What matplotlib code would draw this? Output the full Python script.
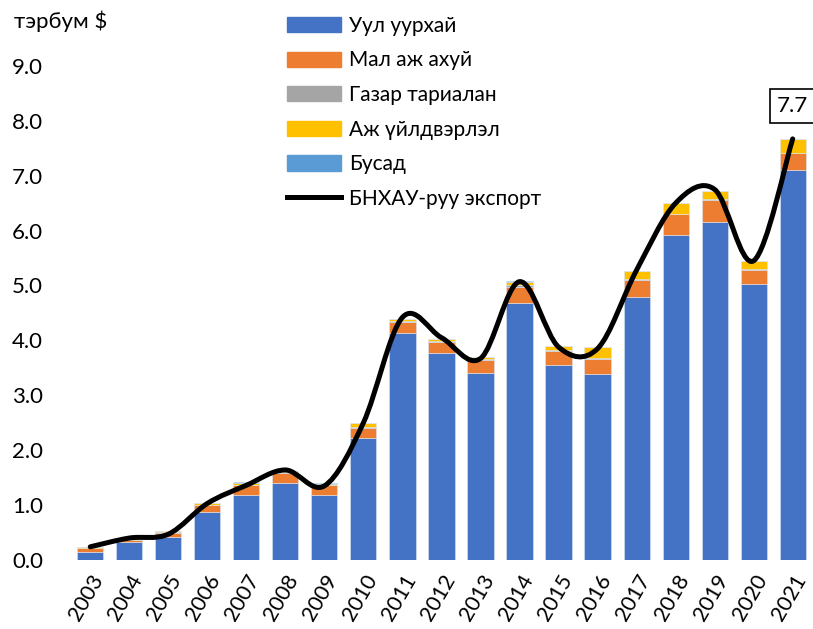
import matplotlib
matplotlib.use("Agg")
import matplotlib.pyplot as plt
import numpy as np
from matplotlib.path import Path
from matplotlib.patches import PathPatch
from matplotlib.lines import Line2D

plt.rcParams['font.family'] = ['Lato', 'DejaVu Sans']

years = [str(y) for y in range(2003, 2022)]

# тэрбум $
mining = [0.15, 0.32, 0.41, 0.87, 1.19, 1.41, 1.19, 2.23, 4.13, 3.77,
          3.41, 4.69, 3.55, 3.39, 4.79, 5.92, 6.16, 5.03, 7.10]
livestock = [0.07, 0.04, 0.09, 0.13, 0.17, 0.18, 0.17, 0.18, 0.21, 0.20,
             0.24, 0.28, 0.26, 0.28, 0.31, 0.38, 0.40, 0.26, 0.31]
crops = [0.005, 0.005, 0.005, 0.01, 0.01, 0.01, 0.01, 0.01, 0.01, 0.01,
         0.01, 0.03, 0.02, 0.01, 0.01, 0.01, 0.01, 0.01, 0.01]
manufacturing = [0.01, 0.01, 0.02, 0.03, 0.04, 0.02, 0.02, 0.07, 0.04, 0.04,
                 0.04, 0.07, 0.06, 0.20, 0.15, 0.19, 0.15, 0.14, 0.24]
other = [0.005] * 19
china_exports = [0.24, 0.40, 0.47, 1.03, 1.36, 1.64, 1.35, 2.50, 4.42, 4.05,
                 3.67, 5.07, 3.88, 3.85, 5.28, 6.50, 6.75, 5.45, 7.67]

series = [
    ("Уул уурхай", mining, "#4472C4"),
    ("Мал аж ахуй", livestock, "#ED7D31"),
    ("Газар тариалан", crops, "#A5A5A5"),
    ("Аж үйлдвэрлэл", manufacturing, "#FFC000"),
    ("Бусад", other, "#5B9BD5"),
]

fig = plt.figure(figsize=(8.13, 6.29), dpi=100)
ax = fig.add_axes([0.087, 0.1097, 0.912, 0.8903])

x = np.arange(len(years))
bottom = np.zeros(len(years))
handles = []
for name, vals, col in series:
    ax.bar(x, vals, 0.67, bottom=bottom, color=col, edgecolor="#dce6f2", linewidth=0.4)
    bottom += np.array(vals)
    handles.append(plt.Rectangle((0, 0), 1, 1, color=col, label=name))


def smooth_path(xs, ys):
    # Catmull-Rom style bezier, like Excel's smoothed line
    pts = np.column_stack([xs, ys]).astype(float)
    p = np.vstack([pts[0], pts, pts[-1]])
    verts = [pts[0]]
    codes = [Path.MOVETO]
    for i in range(1, len(p) - 2):
        c1 = p[i] + (p[i + 1] - p[i - 1]) / 6.0
        c2 = p[i + 1] - (p[i + 2] - p[i]) / 6.0
        verts += [c1, c2, p[i + 1]]
        codes += [Path.CURVE4] * 3
    return Path(verts, codes)


line = PathPatch(smooth_path(x, china_exports), facecolor="none", edgecolor="black",
                 linewidth=3.6, capstyle="round", joinstyle="round", clip_on=False, zorder=5)
ax.add_patch(line)
handles.append(Line2D([0], [0], color="black", linewidth=3.6, label="БНХАУ-руу экспорт"))

ax.annotate(f"{china_exports[-1]:.1f}", (x[-1], 8.27), ha="center", va="center",
            fontsize=16, bbox=dict(boxstyle="square,pad=0.3", fc="white", ec="black", lw=1.2),
            annotation_clip=False)

ax.set_xlim(-0.5, len(years) - 0.5)
ax.set_ylim(0, 10.2)
ax.set_yticks(np.arange(0, 10, 1.0))
ax.set_yticklabels([f"{v:.1f}" for v in np.arange(0, 10, 1.0)], fontsize=16)
ax.set_xticks(x)
ax.set_xticklabels(years, rotation=60, fontsize=15.5, ha="right", rotation_mode="anchor")
ax.tick_params(axis="both", length=0)
ax.tick_params(axis="y", pad=20)
ax.tick_params(axis="x", pad=8)
for s in ax.spines.values():
    s.set_visible(False)

fig.text(0.017, 0.967, "тэрбум $", fontsize=16, va="center", ha="left")

fig.legend(handles=handles, loc="upper left", bbox_to_anchor=(0.335, 0.998),
           frameon=False, fontsize=15, handlelength=2.6, handleheight=0.75,
           handletextpad=0.4, labelspacing=0.7, borderpad=0.2)

fig.savefig("out.png", dpi=100)
